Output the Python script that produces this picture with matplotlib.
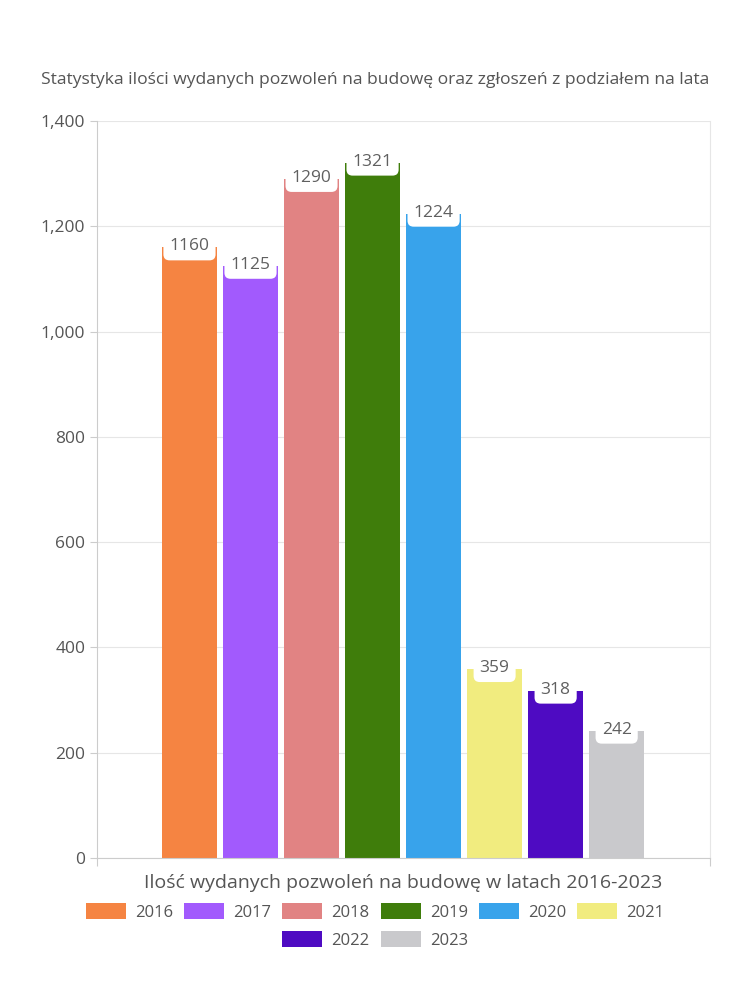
import matplotlib.pyplot as plt
from matplotlib.patches import Patch

years = ['2016', '2017', '2018', '2019', '2020', '2021', '2022', '2023']
permits = [1160, 1125, 1290, 1321, 1224, 359, 318, 242]
colors = ['#f58442', '#a25afd', '#e18383', '#3f7d0b', '#38a3eb',
          '#f1ec7f', '#4e0bc2', '#c9c9cc']
yticks = [0, 200, 400, 600, 800, 1000, 1200, 1400]

plt.rcParams['font.family'] = ['Open Sans', 'DejaVu Sans']
text_color = '#555555'

fig = plt.figure(figsize=(7.5, 10), dpi=100)
ax = fig.add_axes([0.1293, 0.142, 0.8174, 0.737])

x = list(range(len(years)))
ax.bar(x, permits, width=0.9, color=colors, zorder=2)

for xi, v in zip(x, permits):
    ax.text(xi, v + 2, str(v), ha='center', va='center', fontsize=12.5,
            color='#606060', zorder=3,
            bbox=dict(boxstyle='round,pad=0.35,rounding_size=0.35',
                      fc='white', ec='none'))

ax.set_xlim(-1.516, 8.53)
ax.set_ylim(0, 1400)
ax.set_yticks(yticks)
ax.set_yticklabels([f'{t:,}' for t in yticks])
ax.set_xticks([-1.516, 8.53])
ax.set_xticklabels(['', ''])
ax.tick_params(axis='y', colors='#cccccc', labelcolor=text_color,
               labelsize=12.5, length=5)
ax.tick_params(axis='x', colors='#cccccc', length=6)
ax.grid(axis='y', color='#e6e6e6', linewidth=0.8, zorder=0)
for side in ['left', 'bottom']:
    ax.spines[side].set_color('#cccccc')
ax.spines['right'].set_color('#e6e6e6')
ax.spines['top'].set_visible(False)

ax.set_xlabel('Ilość wydanych pozwoleń na budowę w latach 2016-2023',
              fontsize=14, color=text_color, labelpad=2)

fig.text(0.5, 0.92, 'Statystyka ilości wydanych pozwoleń na budowę oraz zgłoszeń z podziałem na lata',
         ha='center', va='center', fontsize=12.6, color=text_color)

# two legend rows, filled left to right
handles = [Patch(facecolor=c, edgecolor='none') for c in colors]
leg_kw = dict(frameon=False, fontsize=12, labelcolor=text_color,
              handlelength=2.4, handleheight=1.02, handletextpad=0.55,
              columnspacing=0.66, borderpad=0, borderaxespad=0)
fig.legend(handles[:6], years[:6], loc='center', ncol=6,
           bbox_to_anchor=(0.5, 0.088), **leg_kw)
fig.legend(handles[6:], years[6:], loc='center', ncol=2,
           bbox_to_anchor=(0.5, 0.06), **leg_kw)

fig.savefig('out.png', dpi=100)
